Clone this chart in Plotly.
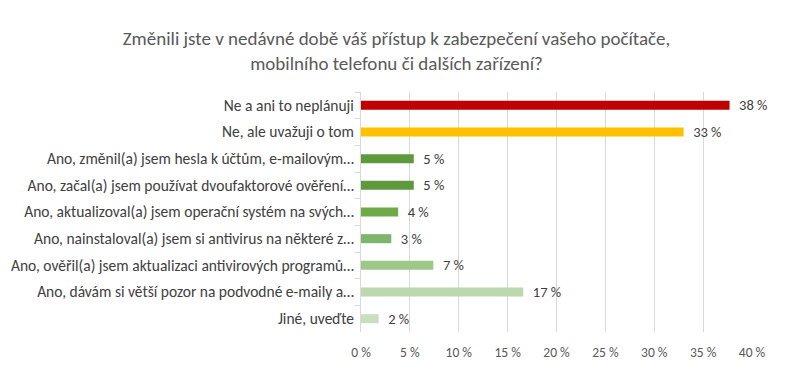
import plotly.graph_objects as go

categories = [
    "Ne a ani to neplánuji",
    "Ne, ale uvažuji o tom",
    "Ano, změnil(a) jsem hesla k účtům, e-mailovým…",
    "Ano, začal(a) jsem používat dvoufaktorové ověření…",
    "Ano, aktualizoval(a) jsem operační systém na svých…",
    "Ano, nainstaloval(a) jsem si antivirus na některé z…",
    "Ano, ověřil(a) jsem aktualizaci antivirových programů…",
    "Ano, dávám si větší pozor na podvodné e-maily a…",
    "Jiné, uveďte",
]
values = [37.7, 33.0, 5.4, 5.4, 3.8, 3.1, 7.4, 16.6, 1.8]
labels = ["38 %", "33 %", "5 %", "5 %", "4 %", "3 %", "7 %", "17 %", "2 %"]
colors = ["#C00000", "#FFC000", "#5E9A3D", "#5E9A3D", "#6EAB48",
          "#80B36B", "#9DC88A", "#BCD8AE", "#CADFC0"]
x_ticks = [0, 5, 10, 15, 20, 25, 30, 35, 40]
x_tick_text = ["0 %", "5 %", "10 %", "15 %", "20 %", "25 %", "30 %", "35 %", "40 %"]

title = ("Změnili jste v nedávné době váš přístup k zabezpečení vašeho počítače,"
         "<br>mobilního telefonu či dalších zařízení?")

font_family = "Carlito, Calibri, Lato, sans-serif"

fig = go.Figure(go.Bar(
    x=values,
    y=categories,
    orientation="h",
    marker=dict(color=colors, line=dict(width=0)),
    width=0.34,
    text=["  " + t for t in labels],
    textposition="outside",
    constraintext="none",
    textfont=dict(family=font_family, size=14.5, color="#404040"),
    cliponaxis=False,
    hoverinfo="skip",
))

fig.update_layout(
    width=793,
    height=382,
    paper_bgcolor="white",
    plot_bgcolor="white",
    margin=dict(l=361, r=41, t=92, b=50, autoexpand=False),
    showlegend=False,
    title=dict(
        text=title,
        x=0.5,
        xanchor="center",
        xref="container",
        yref="container",
        y=1 - 45 / 382,
        yanchor="middle",
        font=dict(family=font_family, size=19, color="#595959"),
    ),
    font=dict(family=font_family, color="#595959"),
)

fig.update_xaxes(
    range=[0, 40],
    tickvals=x_ticks,
    ticktext=x_tick_text,
    showgrid=True,
    gridcolor="#D9D9D9",
    gridwidth=1,
    zeroline=False,
    showline=False,
    ticks="",
    automargin=False,
    ticklabelstandoff=10,
    tickfont=dict(family=font_family, size=13.5, color="#595959"),
    fixedrange=True,
)

fig.update_yaxes(
    autorange="reversed",
    showgrid=False,
    showline=True,
    linecolor="#D9D9D9",
    linewidth=1,
    ticks="outside",
    tickson="boundaries",
    ticklen=5,
    tickcolor="#D9D9D9",
    ticklabelstandoff=3,
    automargin=False,
    tickfont=dict(family=font_family, size=15.5, color="#404040"),
    fixedrange=True,
)

fig.write_html(
    "out.html",
    config={"displayModeBar": False, "staticPlot": True},
    post_script="document.body.style.margin='0';document.body.style.overflow='hidden';",
)
